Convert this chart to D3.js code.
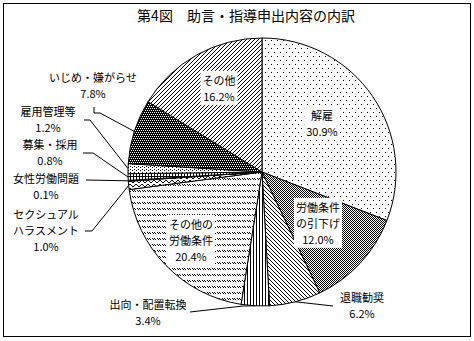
<!DOCTYPE html>
<html>
<head>
<meta charset="utf-8">
<script src="https://cdn.jsdelivr.net/npm/d3@7"></script>
<style>
  body { margin: 0; background: #fff; }
  svg text { font-family: "Noto Sans CJK JP", sans-serif; fill: #000; }
</style>
</head>
<body>
<div id="chart"></div>
<script>
`use strict`;

// data, clockwise from 12 o'clock
const categories = ['解雇', '労働条件の引下げ', '退職勧奨', '出向・配置転換', 'その他の労働条件',
    'セクシュアルハラスメント', '女性労働問題', '募集・採用', '雇用管理等', 'いじめ・嫌がらせ', 'その他'];
const shares = [30.9, 12.0, 6.2, 3.4, 20.4, 1.0, 0.1, 0.8, 1.2, 7.8, 16.2];
const labelLines = [['解雇'], ['労働条件', 'の引下げ'], ['退職勧奨'], ['出向・配置転換'], ['その他の', '労働条件'],
    ['セクシュアル', 'ハラスメント'], ['女性労働問題'], ['募集・採用'], ['雇用管理等'], ['いじめ・嫌がらせ'], ['その他']];
const title = '第4図　助言・指導申出内容の内訳';

let w = 474, h = 341;
let cx = 262, cy = 172, r = 134;
let lineH = 16;

// label layout: x, y of first line, inside (white box) or leader points
let layout = [
    {x: 322, y: 116, inside: true},
    {x: 318, y: 208, inside: true},
    {x: 362, y: 298, leader: [[333, 306]]},
    {x: 148, y: 305, leader: [[243, 306], [190, 312]]},
    {x: 191, y: 225, inside: true},
    {x: 46, y: 215, leader: [[92, 231], [85, 231]]},
    {x: 46, y: 179, leader: [[86, 180]]},
    {x: 50, y: 145, leader: [[93, 153], [83, 153]]},
    {x: 48, y: 112, leader: [[90, 120], [84, 120]]},
    {x: 93, y: 78, leader: [[100, 113], [94, 113], [94, 107]]},
    {x: 219, y: 81, inside: true}
];

let svg = d3.select('#chart').append('svg').attr('width', w).attr('height', h);
let defs = svg.append('defs');

function pattern(id, pw, ph, draw){
    let p = defs.append('pattern').attr('id', id).attr('patternUnits', 'userSpaceOnUse')
        .attr('width', pw).attr('height', ph);
    p.append('rect').attr('width', pw).attr('height', ph).attr('fill', '#fff');
    draw(p);
}
function px(p, pts, color){
    for(let [x, y] of pts){
        p.append('rect').attr('x', x).attr('y', y).attr('width', 1).attr('height', 1).attr('fill', color || '#000');
    }
}

pattern('p0', 6, 8, (p) => px(p, [[0, 0], [3, 4]]));
pattern('p1', 2, 2, (p) => px(p, [[0, 0], [1, 1]]));
pattern('p2', 4, 4, (p) => px(p, [[0, 0], [1, 1], [2, 2], [3, 3]]));
pattern('p3', 3, 1, (p) => px(p, [[0, 0]]));
pattern('p4', 5, 6, (p) => px(p, [[0, 0], [1, 1], [2, 0], [3, 1]]));
pattern('p5', 6, 4, (p) => px(p, [[0, 0], [1, 1], [2, 2], [3, 2], [4, 1], [5, 0]]));
pattern('p6', 1, 1, (p) => px(p, [[0, 0]]));
pattern('p7', 3, 4, (p) => px(p, [[0, 0], [0, 1], [0, 2], [0, 3], [1, 0], [2, 0]]));
pattern('p8', 4, 3, (p) => px(p, [[0, 0], [2, 1]]));
pattern('p9', 4, 4, (p) => {
    p.select('rect').attr('fill', '#000');
    px(p, [[0, 0], [2, 0], [1, 2], [3, 2]], '#fff');
});
pattern('p10', 4, 4, (p) => px(p, [[3, 0], [2, 1], [1, 2], [0, 3]]));

// frame and title
svg.append('rect').attr('x', 3.5).attr('y', 3.5).attr('width', 467).attr('height', 333)
    .attr('fill', 'none').attr('stroke', '#000');
svg.append('text').attr('x', 246).attr('y', 21).attr('text-anchor', 'middle')
    .style('font-size', '14px').text(title);

let pie = d3.pie().sort(null).value((d) => d.v);
let arcs = pie(shares.map((v, i) => ({v: v, i: i})));
let arc = d3.arc().innerRadius(0).outerRadius(r);
let edge = d3.arc().innerRadius(r).outerRadius(r);

let g = svg.append('g').attr('transform', `translate(${cx},${cy})`);
g.selectAll('path.slice').data(arcs).enter().append('path').classed('slice', true)
    .attr('d', arc).attr('fill', (d) => `url(#p${d.data.i})`)
    .attr('stroke', '#000').attr('stroke-width', 1);

// leader lines
let line = d3.line();
arcs.forEach((d, i) => {
    let lay = layout[i];
    if(!lay.leader) return;
    let [ex, ey] = edge.centroid(d);
    let pts = [[cx + ex, cy + ey]].concat(lay.leader);
    svg.append('path').datum(pts).attr('d', line)
        .attr('fill', 'none').attr('stroke', '#000').attr('stroke-width', 1);
});

// labels
categories.forEach((c, i) => {
    let lay = layout[i];
    let lines = labelLines[i].concat([shares[i].toFixed(1) + '%']);
    let lg = svg.append('g');
    let t = lg.append('text').attr('text-anchor', 'middle').style('font-size', '11px');
    lines.forEach((s, k) => {
        t.append('tspan').attr('x', lay.x).attr('y', lay.y + k * lineH).attr('dy', '0.35em').text(s);
    });
    if(lay.inside){
        let bb = t.node().getBBox();
        lg.insert('rect', 'text').attr('x', bb.x - 2).attr('y', bb.y - 1)
            .attr('width', bb.width + 4).attr('height', bb.height + 2).attr('fill', '#fff');
    }
});
</script>
</body>
</html>
